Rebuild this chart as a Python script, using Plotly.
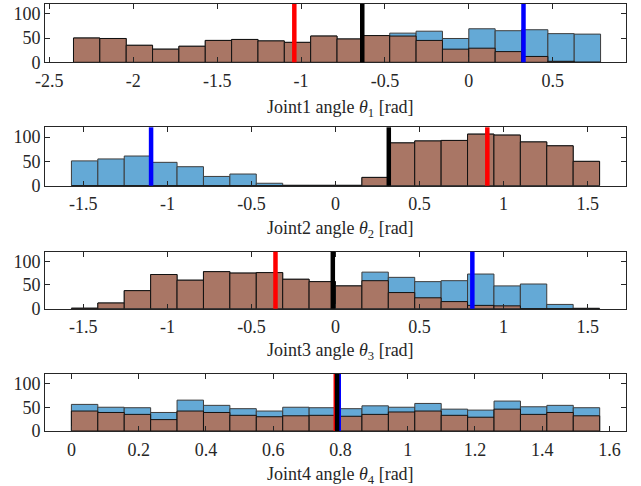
import numpy as np
import plotly.graph_objects as go

PI = np.pi

# ---- Histogram bins (start, width) per joint ----
bin_start = [-3 * PI / 4, -PI / 2, -PI / 2, 0.0]
bin_width = [PI / 20, PI / 20, PI / 20, PI / 40]

# ---- Counts: all solutions (blue) and selected subset (brown overlap) ----
j1_all = [50, 49, 35, 27, 33, 45, 47, 44, 41, 54, 48, 55, 60, 64, 49, 69, 65, 67, 59, 58]
j1_sub = [50, 49, 35, 27, 33, 45, 47, 44, 41, 54, 48, 55, 54, 45, 27, 29, 22, 12, 2, 0]

j2_all = [51, 55, 61, 48, 39, 19, 24, 5, 1, 1, 1, 17, 88, 92, 93, 106, 104, 90, 82, 50]
j2_sub = [0, 0, 0, 0, 0, 0, 0, 0, 0, 0, 0, 17, 88, 92, 93, 106, 104, 90, 82, 50]

j3_all = [1, 12, 38, 72, 60, 78, 75, 76, 62, 57, 48, 77, 66, 57, 59, 73, 48, 52, 9, 1]
j3_sub = [1, 12, 38, 72, 60, 78, 75, 76, 62, 57, 48, 59, 34, 23, 15, 7, 6, 0, 0, 0]

j4_all = [56, 50, 49, 39, 65, 54, 47, 42, 50, 49, 47, 53, 50, 58, 46, 44, 63, 51, 54, 49]
j4_sub = [42, 39, 35, 24, 42, 39, 33, 30, 32, 33, 31, 35, 40, 42, 33, 29, 46, 35, 39, 32]

all_counts = [j1_all, j2_all, j3_all, j4_all]
sub_counts = [j1_sub, j2_sub, j3_sub, j4_sub]

# ---- Vertical marker lines (red, black, blue) ----
red_lines = [-1.04, 0.903, -0.357, 0.786]
black_lines = [-0.635, 0.317, -0.016, 0.790]
blue_lines = [0.326, -1.097, 0.814, 0.795]

# ---- Axes ----
x_ranges = [[-2.526, 0.937], [-1.728, 1.728], [-1.728, 1.728], [-0.0785, 1.649]]
x_ticks = [[-2.5, -2, -1.5, -1, -0.5, 0, 0.5],
           [-1.5, -1, -0.5, 0, 0.5, 1, 1.5],
           [-1.5, -1, -0.5, 0, 0.5, 1, 1.5],
           [0, 0.2, 0.4, 0.6, 0.8, 1, 1.2, 1.4, 1.6]]
x_ticktext = [["-2.5", "-2", "-1.5", "-1", "-0.5", "0", "0.5"],
              ["-1.5", "-1", "-0.5", "0", "0.5", "1", "1.5"],
              ["-1.5", "-1", "-0.5", "0", "0.5", "1", "1.5"],
              ["0", "0.2", "0.4", "0.6", "0.8", "1", "1.2", "1.4", "1.6"]]
y_range = [0, 120]
y_ticks = [0, 50, 100]
titles = ["Joint1 angle <i>θ</i><sub>1</sub> [rad]",
          "Joint2 angle <i>θ</i><sub>2</sub> [rad]",
          "Joint3 angle <i>θ</i><sub>3</sub> [rad]",
          "Joint4 angle <i>θ</i><sub>4</sub> [rad]"]

y_domains = [[0.8635, 1.0], [0.5745, 0.7112], [0.2864, 0.4199], [0.0, 0.1335]]
title_y = [0.755, 0.472, 0.186, -0.104]

BLUE = "#64a9d6"
BROWN = "#a97665"
FONT = "Liberation Serif, Times New Roman, serif"
AX = "#262626"

fig = go.Figure()
layout = dict(
    width=641, height=486,
    margin=dict(l=45, r=15, t=4, b=55),
    paper_bgcolor="white", plot_bgcolor="white",
    barmode="overlay", showlegend=False,
    font=dict(family=FONT, size=18, color=AX),
)
shapes = []
annotations = []

for i in range(4):
    n = len(all_counts[i])
    edges = bin_start[i] + bin_width[i] * np.arange(n)
    centers = edges + bin_width[i] / 2
    xa = "x" if i == 0 else f"x{i+1}"
    ya = "y" if i == 0 else f"y{i+1}"
    fig.add_trace(go.Bar(x=centers, y=all_counts[i], width=bin_width[i],
                         marker=dict(color=BLUE, line=dict(color="#3c3c3c", width=1)),
                         xaxis=xa, yaxis=ya, hoverinfo="skip"))
    fig.add_trace(go.Bar(x=centers, y=sub_counts[i], width=bin_width[i],
                         marker=dict(color=BROWN, line=dict(color="#111111", width=1)),
                         xaxis=xa, yaxis=ya, hoverinfo="skip"))
    for xv, col in ((red_lines[i], "#ff0000"), (blue_lines[i], "#0000ff"), (black_lines[i], "#000000")):
        shapes.append(dict(type="line", xref=xa, yref=f"{ya} domain", x0=xv, x1=xv, y0=0, y1=1,
                           line=dict(color=col, width=4.5), layer="above"))
    xk = "xaxis" if i == 0 else f"xaxis{i+1}"
    yk = "yaxis" if i == 0 else f"yaxis{i+1}"
    layout[xk] = dict(domain=[0, 1], anchor=ya, range=x_ranges[i], tickvals=x_ticks[i],
                      ticktext=x_ticktext[i],
                      ticks="inside", ticklen=5, tickcolor=AX, showline=True, linecolor=AX,
                      linewidth=1, mirror="ticks", showgrid=False, zeroline=False,
                      tickfont=dict(family=FONT, size=18, color=AX), ticklabelstandoff=2)
    layout[yk] = dict(domain=y_domains[i], anchor=xa, range=y_range, tickvals=y_ticks,
                      ticks="inside", ticklen=5, tickcolor=AX, showline=True, linecolor=AX,
                      linewidth=1, mirror="ticks", showgrid=False, zeroline=False,
                      tickfont=dict(family=FONT, size=18, color=AX))
    annotations.append(dict(text=titles[i], xref="paper", yref="paper", x=0.508, y=title_y[i],
                            xanchor="center", yanchor="middle", showarrow=False,
                            font=dict(family=FONT, size=18, color=AX)))

layout["shapes"] = shapes
layout["annotations"] = annotations
fig.update_layout(**layout)
fig.write_html("out.html", config={"displayModeBar": False},
               post_script="document.body.style.margin='0';")
